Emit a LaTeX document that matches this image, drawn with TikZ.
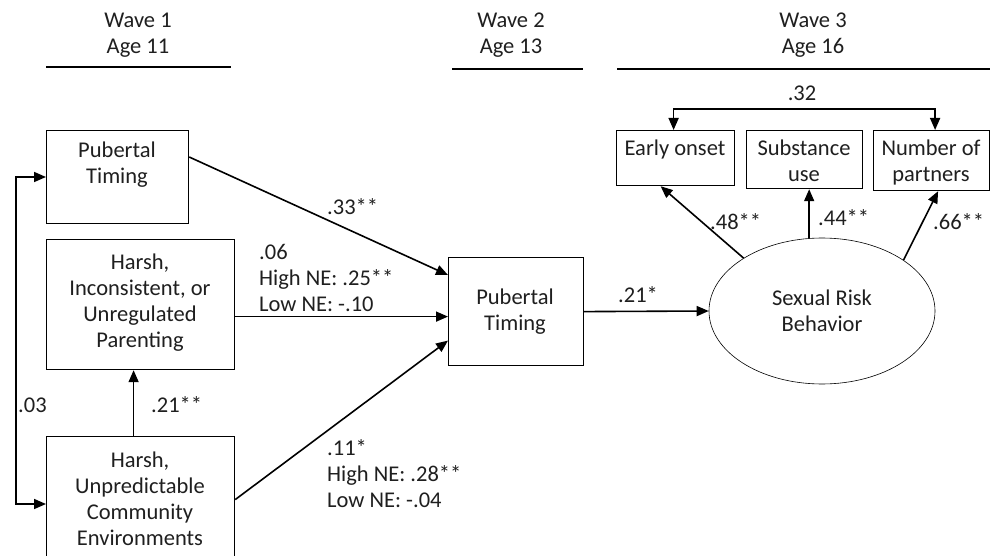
\documentclass[tikz,border=0pt]{standalone}
\usepackage{fontspec}
\setmainfont{Carlito}
\usetikzlibrary{arrows.meta,shapes.geometric,calc}
\begin{document}
\begin{tikzpicture}[x=1pt,y=-1pt,
  every node/.style={font=\fontsize{22.5}{26}\selectfont, text=black!88},
  box/.style={draw, line width=1.2pt, rectangle, inner sep=0pt, anchor=north west},
  txt/.style={inner sep=0pt, align=center},
  lbl/.style={inner sep=0pt, align=left, anchor=west},
  tip/.style={Triangle[length=12pt,width=10pt]},
  arr/.style={-{Triangle[length=12pt,width=10pt]}, line width=1.6pt},
  dbl/.style={{Triangle[length=12pt,width=10pt]}-{Triangle[length=12pt,width=10pt]}, line width=1.6pt},
  rule/.style={line width=1.8pt}]
\useasboundingbox (0,0) rectangle (990,556);
\clip (0,0) rectangle (990,556);

% headers
\node[txt] (h1) at (138,35) {Wave 1\\Age 11};
\node[txt] (h2) at (511,35) {Wave 2\\Age 13};
\node[txt] (h3) at (813,35) {Wave 3\\Age 16};
\coordinate (r1a) at (46,67);  \coordinate (r1b) at (231,67);
\coordinate (r2a) at (452,69); \coordinate (r2b) at (583,69);
\coordinate (r3a) at (617,69); \coordinate (r3b) at (990,69);
\draw[rule] (r1a) -- (r1b);
\draw[rule] (r2a) -- (r2b);
\draw[rule] (r3a) -- (r3b);

% wave 1 boxes
\node[box, minimum width=142pt, minimum height=93pt] (ptA) at (46,130) {};
\node[txt] (ptAt) at (117,165) {Pubertal\\Timing};
\node[box, minimum width=188pt, minimum height=130pt] (par) at (46,239) {};
\node[txt] (part) at (140,303) {Harsh,\\Inconsistent, or\\Unregulated\\Parenting};
\node[box, minimum width=188pt, minimum height=126pt] (comm) at (46,436) {};
\node[txt] (commt) at (140,499) {Harsh,\\Unpredictable\\Community\\Environments};

% wave 2 box
\node[box, minimum width=135pt, minimum height=108pt] (ptB) at (448,257) {};
\node[txt] (ptBt) at (515,312) {Pubertal\\Timing};

% wave 3
\node[draw, ellipse, line width=0.6pt, minimum width=226pt, minimum height=146pt, inner sep=0pt] (srb) at (822,311) {};
\node[txt] (srbt) at (822,311) {Sexual Risk\\Behavior};
\node[box, minimum width=118pt, minimum height=55pt] (early) at (616,130) {};
\node[txt] (earlyt) at (675,150) {Early onset};
\node[box, minimum width=116pt, minimum height=58pt] (subst) at (746,130) {};
\node[txt] (substt) at (804,161) {Substance\\use};
\node[box, minimum width=116pt, minimum height=60pt] (partn) at (873,130) {};
\node[txt] (partnt) at (931,163) {Number of\\partners};

% connectors
\draw[arr] ([yshift=-27pt]ptA.north east) -- ([yshift=-18pt]ptB.north west);
\draw[arr] ([yshift=-12pt]par.east) -- ([yshift=-12pt]par.east -| ptB.west);
\draw[arr] (comm.east) -- ([yshift=-29pt]ptB.west);
\draw[arr] ([xshift=-7pt]comm.north) -- ([xshift=-7pt]par.south);
\draw[dbl] ([yshift=-47pt]ptA.north west) -- ++(-30pt,0) |- ([yshift=-68pt]comm.north west);
\draw[arr] (ptB.east) -- (srb.west);
\draw[arr] (srb.146.6) -- ([xshift=-15pt]early.south);
\draw[arr] (srb.100) -- (srb.100 |- subst.south);
\draw[arr] (srb.32.7) -- ([xshift=6.5pt]partn.south);
\draw[dbl] ([xshift=-2pt]early.north) -- ++(0,21pt) -| ([xshift=3.5pt]partn.north);

% labels
\node[lbl] (l33) at (327,207) {.33**};
\node[lbl] (l06) at (259,277.5) {.06\\High NE: .25**\\Low NE: -.10};
\node[lbl] (l11) at (327,473.5) {.11*\\High NE: .28**\\Low NE: -.04};
\node[lbl] (l21a) at (151,405) {.21**};
\node[lbl] (l03) at (18,405) {.03};
\node[lbl] (l21b) at (618,295) {.21*};
\node[lbl] (l48) at (710,222) {.48**};
\node[lbl] (l44) at (818,218) {.44**};
\node[lbl] (l66) at (933,222) {.66**};
\node[txt] (l32) at (802,93) {.32};
\end{tikzpicture}
\end{document}
